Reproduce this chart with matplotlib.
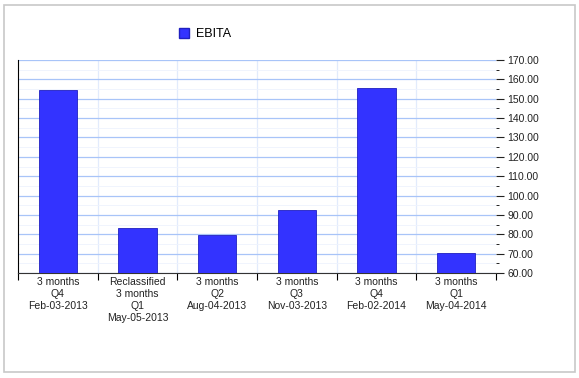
import matplotlib.pyplot as plt
from matplotlib.patches import Rectangle, Patch
from matplotlib.ticker import MultipleLocator

plt.rcParams['font.family'] = ['Liberation Sans', 'DejaVu Sans']

categories = ["3 months\nQ4\nFeb-03-2013",
              "Reclassified\n3 months\nQ1\nMay-05-2013",
              "3 months\nQ2\nAug-04-2013",
              "3 months\nQ3\nNov-03-2013",
              "3 months\nQ4\nFeb-02-2014",
              "3 months\nQ1\nMay-04-2014"]
ebita = [154.5, 83.2, 79.6, 92.5, 155.5, 70.3]
yticks = [60, 70, 80, 90, 100, 110, 120, 130, 140, 150, 160, 170]

fig = plt.figure(figsize=(5.79, 3.78), dpi=100)
ax = fig.add_axes([18 / 579, 105 / 378, 478 / 579, 213 / 378])

# outer frame
fig.patches.append(Rectangle((4 / 579, 6 / 378), 571 / 579, 367 / 378,
                             transform=fig.transFigure, fill=False,
                             edgecolor="#c8c8c8", linewidth=1.2))

x = range(len(ebita))
ax.bar(x, ebita, width=0.48, color="#3333ff", edgecolor="#2020c0",
       linewidth=0.6, zorder=3)

ax.yaxis.tick_right()
ax.set_yticks(yticks)
ax.set_yticklabels([f"{v:.2f}" for v in yticks])
ax.yaxis.set_minor_locator(MultipleLocator(5))
ax.set_xlim(-0.5, len(ebita) - 0.5)
ax.set_ylim(60, 170)
ax.tick_params(axis="y", which="major", length=6, width=0.8, pad=2,
               labelsize=7.5, colors="#222222", direction="out")
ax.tick_params(axis="y", which="minor", length=2, width=0.6, direction="out")

ax.grid(axis="y", which="major", color="#a8c4f8", linewidth=0.9, zorder=0)
ax.grid(axis="y", which="minor", color="#eef3fd", linewidth=0.6, zorder=0)

# category boundaries
bounds = [i - 0.5 for i in range(len(ebita) + 1)]
for b in bounds[1:-1]:
    ax.axvline(b, color="#e2ebfc", linewidth=0.9, zorder=0)
ax.set_xticks(bounds, minor=False)
ax.set_xticklabels([])
ax.tick_params(axis="x", which="major", length=5, width=0.8, direction="out")
ax.set_xticks(list(x), minor=True)
ax.set_xticklabels(categories, minor=True, fontsize=7.5, color="#222222",
                   linespacing=1.25)
ax.tick_params(axis="x", which="minor", length=0, pad=3)

for s in ["top", "right"]:
    ax.spines[s].set_visible(False)
ax.spines["left"].set_color("black")
ax.spines["bottom"].set_color("#333333")
ax.spines["left"].set_linewidth(0.8)
ax.spines["bottom"].set_linewidth(0.8)

fig.legend(handles=[Patch(facecolor="#3333ff", edgecolor="#2020c0",
                          label="EBITA")],
           loc="center", bbox_to_anchor=(205 / 579, 1 - 34 / 378),
           frameon=False, fontsize=9, handlelength=0.8, handleheight=0.9,
           handletextpad=0.5)

fig.savefig("out.png", dpi=100)
